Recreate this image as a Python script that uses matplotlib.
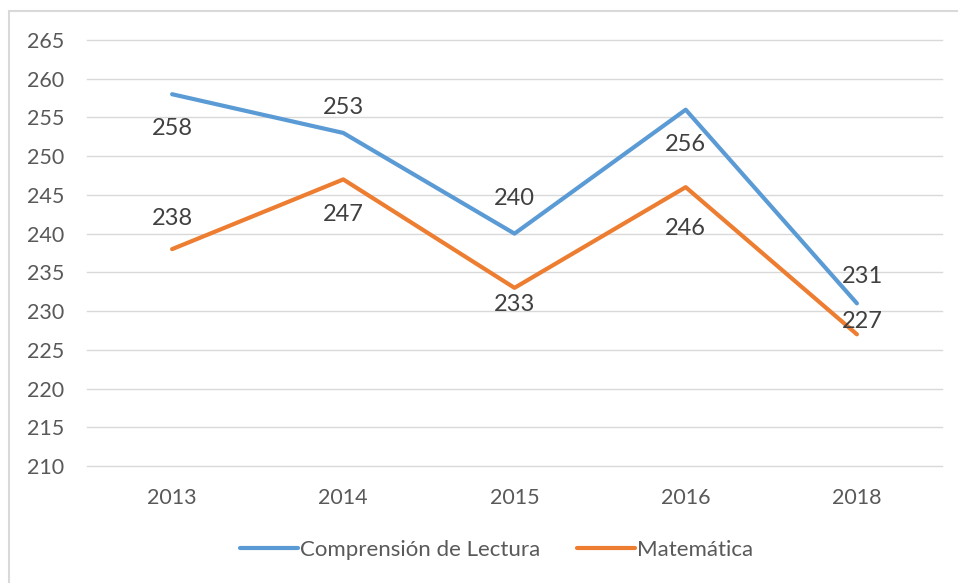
import matplotlib.pyplot as plt
from matplotlib.lines import Line2D

years = ["2013", "2014", "2015", "2016", "2018"]
lectura = [258, 253, 240, 256, 231]
matematica = [238, 247, 233, 246, 227]

# label offsets in points (dx, dy) as Excel placed them
off_lect = [(0, -25), (0, 18), (0, 25), (0, -25), (4, 19)]
off_mat = [(0, 22), (0, -25), (0, -12), (0, -30), (4, 9)]

plt.rcParams["font.family"] = ["Lato", "DejaVu Sans"]
txt = "#595959"

fig = plt.figure(figsize=(9.58, 5.83), dpi=100)
W, H = 958, 583
ax = fig.add_axes([86.5 / W, (H - 466) / H, 856 / W, 426 / H])

x = list(range(len(years)))
ax.plot(x, lectura, color="#5B9BD5", lw=3, solid_capstyle="round", solid_joinstyle="round", zorder=3)
ax.plot(x, matematica, color="#ED7D31", lw=3, solid_capstyle="round", solid_joinstyle="round", zorder=3)

for xi, v, (dx, dy) in zip(x, lectura, off_lect):
    ax.annotate(str(v), (xi, v), xytext=(dx, dy), textcoords="offset points",
                ha="center", va="center", fontsize=17, color="#404040")
for xi, v, (dx, dy) in zip(x, matematica, off_mat):
    ax.annotate(str(v), (xi, v), xytext=(dx, dy), textcoords="offset points",
                ha="center", va="center", fontsize=17, color="#404040")

ax.set_xlim(-0.5, len(years) - 0.5)
ax.set_ylim(210, 265)
ax.set_yticks(range(210, 266, 5))
ax.set_xticks(x)
ax.set_xticklabels(years)
ax.tick_params(length=0, labelsize=15.5, labelcolor=txt)
ax.tick_params(axis="y", pad=16)
ax.tick_params(axis="x", pad=16)
ax.grid(axis="y", color="#D9D9D9", lw=1)
for gl in ax.get_ygridlines():
    gl.set_clip_on(False)
ax.set_axisbelow(True)
for s in ax.spines.values():
    s.set_visible(False)

handles = [Line2D([], [], color="#5B9BD5", lw=3, solid_capstyle="round"),
           Line2D([], [], color="#ED7D31", lw=3, solid_capstyle="round")]
fig.legend(handles, ["Comprensión de Lectura", "Matemática"], loc="center",
           bbox_to_anchor=(497 / W, (H - 550) / H), ncol=2, frameon=False,
           fontsize=16, labelcolor=txt, handlelength=2.6, handletextpad=0.1,
           columnspacing=1.65)

# chart border
fig.add_artist(plt.Rectangle((9 / W, -0.1), 1.2, (H - 11) / H + 0.1,
                             transform=fig.transFigure, fill=False,
                             edgecolor="#D9D9D9", lw=1.5))

fig.savefig("out.png", dpi=100)
